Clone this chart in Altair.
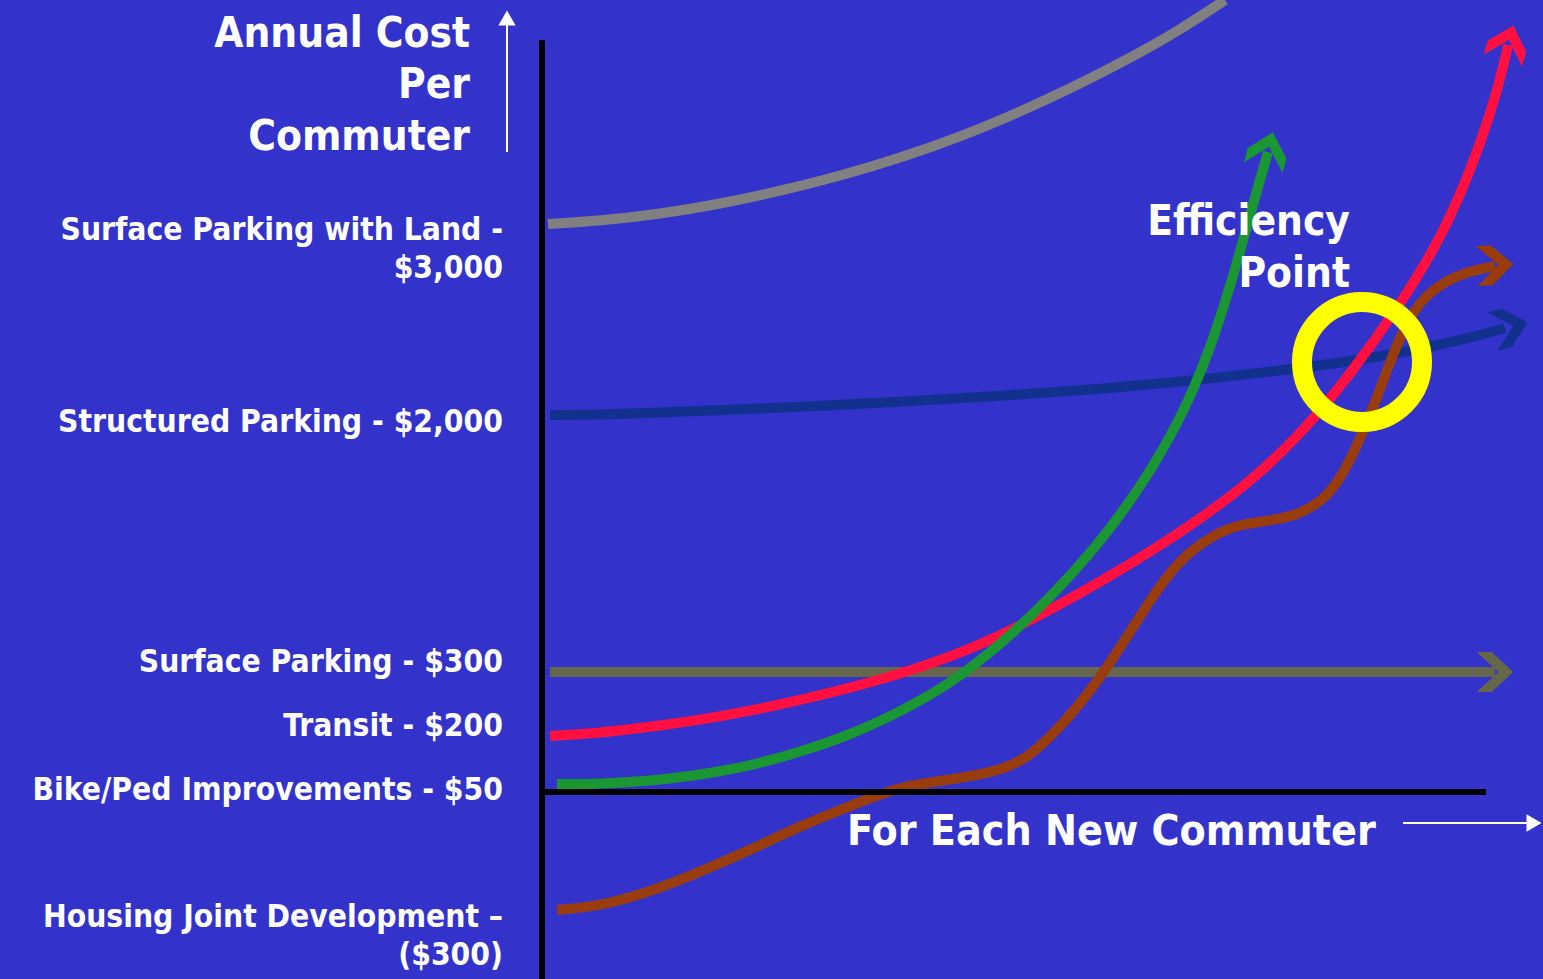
import altair as alt
import pandas as pd

W, H = 1543, 979
BG = "#3333CC"
FONT = "DejaVu Sans Condensed"

# ---- curve data (x = new commuters axis, y = cost position, drawn in screen units) ----
gray_x = [548, 600, 660, 720, 780, 840, 900, 960, 1020, 1080, 1130, 1180, 1225]
gray_y = [224, 221, 214, 204, 191, 176, 158, 137, 112, 84, 58, 30, 0]

navy_x = [550, 600, 700, 800, 900, 1000, 1100, 1200, 1300, 1360, 1420, 1470, 1505]
navy_y = [415, 415, 411, 407, 402, 396, 389, 380, 368, 360, 349, 338, 328]

olive_x = [550, 800, 1050, 1300, 1495]
olive_y = [672, 672, 672, 672, 672]

red_x = [550, 600, 650, 700, 750, 800, 850, 900, 950, 1000, 1050, 1100, 1150, 1200,
         1250, 1300, 1350, 1400, 1440, 1470, 1490, 1502, 1508]
red_y = [736, 733, 727, 720, 711, 700, 688, 674, 657, 636, 610, 582, 552, 519,
         482, 435, 375, 305, 240, 172, 115, 72, 45]

green_x = [557, 600, 650, 700, 750, 800, 850, 900, 950, 1000, 1050, 1100, 1150,
           1190, 1215, 1235, 1250, 1260, 1268]
green_y = [784, 784, 781, 775, 766, 752, 735, 712, 684, 645, 598, 543, 474,
           400, 335, 270, 215, 180, 152]

brown_x = [557, 600, 650, 700, 750, 800, 850, 900, 950, 1000, 1030, 1067, 1107, 1160,
           1187, 1217, 1240, 1283, 1303, 1323, 1340, 1360, 1380, 1400, 1420, 1445, 1470, 1495]
brown_y = [910, 906, 892, 872, 850, 826, 806, 786, 780, 771, 757, 720, 670, 583,
           553, 533, 524, 519, 512, 500, 480, 440, 390, 335, 300, 281, 271, 266]

series = [
    ("gray", gray_x, gray_y, "#808080", 10),
    ("navy", navy_x, navy_y, "#12318F", 10),
    ("olive", olive_x, olive_y, "#66664A", 10),
    ("red", red_x, red_y, "#FF1040", 10),
    ("green", green_x, green_y, "#1A9632", 10),
    ("brown", brown_x, brown_y, "#9A3D0E", 10),
]

# arrowheads: name, x, y, angle(deg, 0 = up), colour
head_name = ["navy", "olive", "red", "green", "brown"]
head_x = [1510, 1495, 1508, 1268, 1495]
head_y = [327, 672, 43, 150, 265]
head_ang = [75, 90, 17, 15, 87]
head_col = ["#12318F", "#66664A", "#FF1040", "#1A9632", "#9A3D0E"]

# text
left_labels = ["Surface Parking with Land -", "$3,000", "Structured Parking - $2,000",
               "Surface Parking - $300", "Transit - $200", "Bike/Ped Improvements - $50",
               "Housing Joint Development \u2013", "($300)"]
left_y = [240, 278, 432, 672, 736, 800, 927, 965]

title_lines = ["Annual Cost", "Per", "Commuter"]
title_y = [47, 98, 150]

eff_lines = ["Efficiency", "Point"]
eff_y = [235, 287]

xaxis_text = "For Each New Commuter"

xs = alt.Scale(domain=[0, W], nice=False, zero=False)
ys = alt.Scale(domain=[0, H], nice=False, zero=False, reverse=True)
X = lambda f: alt.X(f, type="quantitative", scale=xs, axis=None)
Y = lambda f: alt.Y(f, type="quantitative", scale=ys, axis=None)

layers = []
for name, sx, sy, col, sw in series:
    df = pd.DataFrame({"x": sx, "y": sy, "o": range(len(sx))})
    layers.append(
        alt.Chart(df).mark_line(color=col, strokeWidth=sw, interpolate="basis",
                                strokeCap="butt", clip=True)
        .encode(x=X("x"), y=Y("y"), order="o:Q")
    )

arrow_path = "M0,-0.92 L1,0.17 L1,0.92 L0,-0.17 L-1,0.92 L-1,0.17 Z"
hdf = pd.DataFrame({"x": head_x, "y": head_y, "a": head_ang, "c": head_col, "n": head_name})
layers.append(
    alt.Chart(hdf).mark_point(shape=arrow_path, filled=True, size=1600, opacity=1,
                              strokeWidth=0)
    .encode(x=X("x"), y=Y("y"), angle=alt.Angle("a:Q", scale=None),
            color=alt.Color("c:N", scale=None))
)

# yellow efficiency ring
ring = pd.DataFrame({"x": [1362], "y": [362]})
layers.append(
    alt.Chart(ring).mark_point(shape="circle", filled=False, size=14400, strokeWidth=20,
                               color="#FFFF00", opacity=1)
    .encode(x=X("x"), y=Y("y"))
)

# black axes
vax = pd.DataFrame({"x": [542], "y": [40], "y2": [979]})
layers.append(alt.Chart(vax).mark_rule(color="black", strokeWidth=6)
              .encode(x=X("x"), y=Y("y"), y2="y2:Q"))
hax = pd.DataFrame({"x": [542], "x2": [1486], "y": [792]})
layers.append(alt.Chart(hax).mark_rule(color="black", strokeWidth=6)
              .encode(x=X("x"), x2="x2:Q", y=Y("y")))

# white pointer arrows
wv = pd.DataFrame({"x": [507], "y": [152], "y2": [24]})
layers.append(alt.Chart(wv).mark_rule(color="white", strokeWidth=2)
              .encode(x=X("x"), y=Y("y"), y2="y2:Q"))
wh = pd.DataFrame({"x": [1403], "x2": [1530], "y": [823]})
layers.append(alt.Chart(wh).mark_rule(color="white", strokeWidth=2)
              .encode(x=X("x"), x2="x2:Q", y=Y("y")))
wt = pd.DataFrame({"x": [507, 1534], "y": [18, 823], "a": [0, 90]})
layers.append(alt.Chart(wt).mark_point(shape="triangle-up", filled=True, size=300,
                                       color="white", opacity=1, strokeWidth=0)
              .encode(x=X("x"), y=Y("y"), angle=alt.Angle("a:Q", scale=None)))

# texts
ldf = pd.DataFrame({"t": left_labels, "x": [503] * len(left_labels), "y": left_y})
layers.append(alt.Chart(ldf).mark_text(align="right", baseline="alphabetic", font=FONT,
                                       fontSize=31.5, fontWeight="bold", color="white")
              .encode(x=X("x"), y=Y("y"), text="t:N"))
tdf = pd.DataFrame({"t": title_lines, "x": [470] * 3, "y": title_y})
layers.append(alt.Chart(tdf).mark_text(align="right", baseline="alphabetic", font=FONT,
                                       fontSize=42, fontWeight="bold", color="white")
              .encode(x=X("x"), y=Y("y"), text="t:N"))
edf = pd.DataFrame({"t": eff_lines, "x": [1350] * 2, "y": eff_y})
layers.append(alt.Chart(edf).mark_text(align="right", baseline="alphabetic", font=FONT,
                                       fontSize=42, fontWeight="bold", color="white")
              .encode(x=X("x"), y=Y("y"), text="t:N"))
xdf = pd.DataFrame({"t": [xaxis_text], "x": [847], "y": [845]})
layers.append(alt.Chart(xdf).mark_text(align="left", baseline="alphabetic", font=FONT,
                                       fontSize=42.5, fontWeight="bold", color="white")
              .encode(x=X("x"), y=Y("y"), text="t:N"))

chart = (
    alt.layer(*layers)
    .properties(width=W, height=H, background=BG, padding=0,
                autosize=alt.AutoSizeParams(type="none"))
    .configure_view(strokeWidth=0)
)

chart.save("out.html", embed_options={"renderer": "svg", "actions": False})
